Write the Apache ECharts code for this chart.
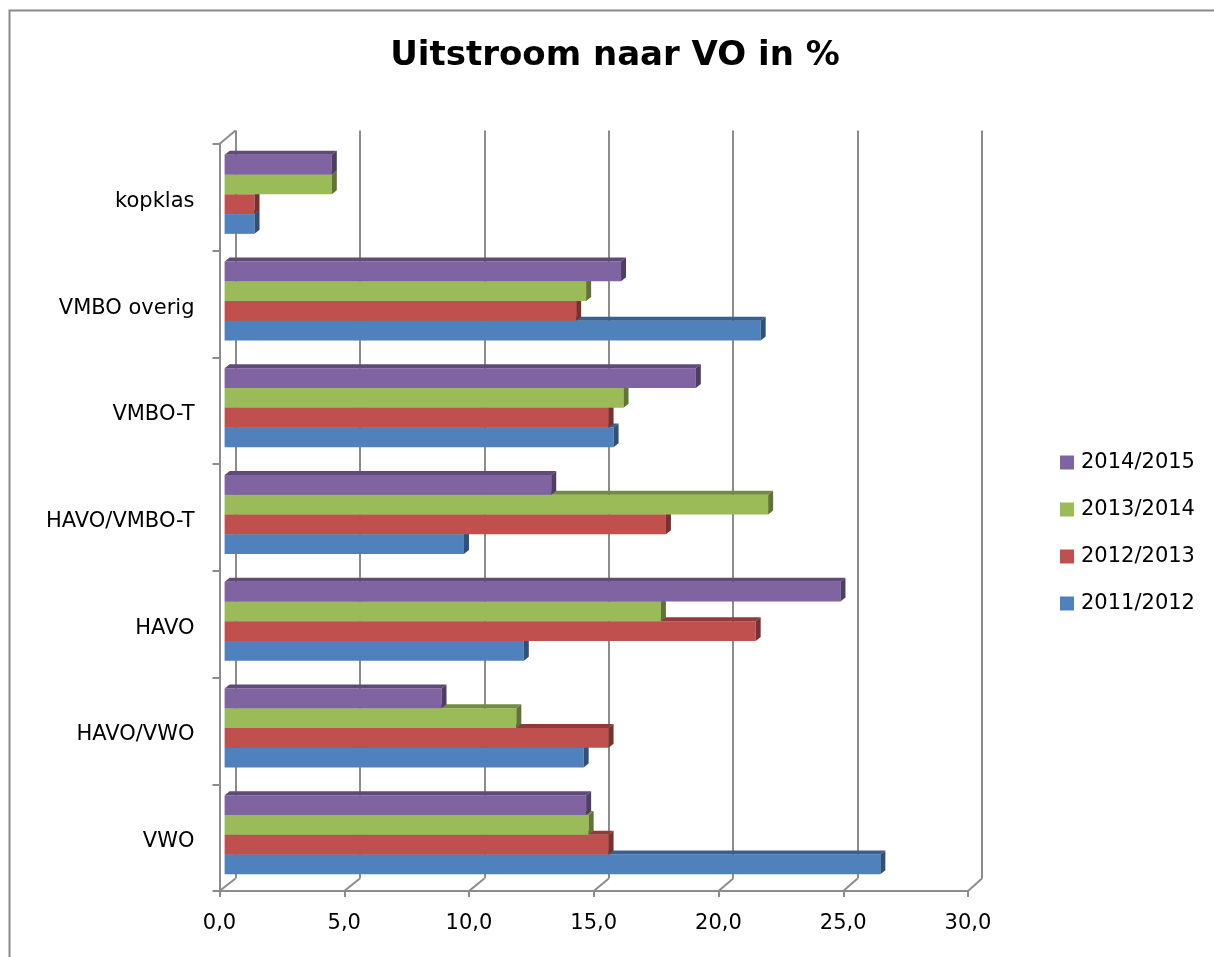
<!DOCTYPE html>
<html>
<head>
<meta charset="utf-8">
<script src="https://cdn.jsdelivr.net/npm/echarts@6/dist/echarts.min.js"></script>
<style>
html,body{margin:0;padding:0;background:#fff;}
#main{width:1214px;height:957px;}
</style>
</head>
<body>
<div id="main"></div>
<script>
// ---- data (categories bottom to top) ----
const categories = ['VWO', 'HAVO/VWO', 'HAVO', 'HAVO/VMBO-T', 'VMBO-T', 'VMBO overig', 'kopklas'];
const s2011_2012 = [26.3, 14.4, 12.0, 9.6, 15.6, 21.5, 1.2];
const s2012_2013 = [15.4, 15.4, 21.3, 17.7, 15.4, 14.1, 1.2];
const s2013_2014 = [14.6, 11.7, 17.5, 21.8, 16.0, 14.5, 4.3];
const s2014_2015 = [14.5, 8.7, 24.7, 13.1, 18.9, 15.9, 4.3];
const seriesNames = ['2011/2012', '2012/2013', '2013/2014', '2014/2015'];
const xTicks = [0, 5, 10, 15, 20, 25, 30];
const titleText = 'Uitstroom naar VO in %';

// ---- styling / layout ----
const seriesValues = [s2011_2012, s2012_2013, s2013_2014, s2014_2015];
const colors = ['#4F81BD', '#C0504D', '#9BBB59', '#8064A2'];
const FONT = '"DejaVu Sans", sans-serif';
const LINE = '#8c8c8c';
const DX = 5, DY = 4;
const FRONT = {left: 219.5, top: 144, width: 748.5, height: 747};
const BACK = {left: 235.5, top: 130.5, width: 746.5, height: 748};
const BARS = {left: 224.6, top: 141, width: 748, height: 747};

function shade(hex, f) {
  const n = parseInt(hex.slice(1), 16);
  const r = Math.round(((n >> 16) & 255) * f);
  const gg = Math.round(((n >> 8) & 255) * f);
  const b = Math.round((n & 255) * f);
  return 'rgb(' + r + ',' + gg + ',' + b + ')';
}

const chart = echarts.init(document.getElementById('main'));

function makeRender(k) {
  const col = colors[k];
  const topCol = shade(col, 0.74);
  const sideCol = shade(col, 0.62);
  return function (params, api) {
    const v = api.value(0), c = api.value(1);
    const a = api.coord([0, c]);
    const b = api.coord([v, c]);
    const band = api.size([0, 1])[1];
    const h = band * 0.74 / 4;
    const top = a[1] - 2 * h + (3 - k) * h;
    return {
      type: 'group',
      children: [
        {type: 'rect', shape: {x: a[0], y: top, width: b[0] - a[0], height: h}, style: {fill: col}},
        {type: 'polygon', shape: {points: [[a[0], top], [b[0], top], [b[0] + DX, top - DY], [a[0] + DX, top - DY]]}, style: {fill: topCol}},
        {type: 'polygon', shape: {points: [[b[0], top], [b[0] + DX, top - DY], [b[0] + DX, top + h - DY], [b[0], top + h]]}, style: {fill: sideCol}}
      ]
    };
  };
}

const series = seriesNames.map((name, k) => ({
  name: name,
  type: 'custom',
  xAxisIndex: 0,
  yAxisIndex: 0,
  itemStyle: {color: colors[k]},
  encode: {x: 0, y: 1},
  data: seriesValues[k].map((v, i) => [v, i]),
  renderItem: makeRender(k),
  z: 5
}));

chart.setOption({
  animation: false,
  backgroundColor: '#fff',
  grid: [
    Object.assign({containLabel: false}, BARS),
    Object.assign({containLabel: false}, FRONT),
    Object.assign({containLabel: false}, BACK)
  ],
  xAxis: [
    {gridIndex: 0, type: 'value', min: 0, max: 30, interval: 5, show: false},
    {gridIndex: 1, type: 'value', min: 0, max: 30, interval: 5,
      axisLine: {show: true, lineStyle: {color: LINE, width: 2}},
      axisTick: {show: true, length: 6, lineStyle: {color: LINE, width: 2}},
      splitLine: {show: false},
      axisLabel: {margin: 22, fontSize: 21, fontFamily: FONT, color: '#000',
        formatter: v => v.toFixed(1).replace('.', ',')}},
    {gridIndex: 2, type: 'value', min: 0, max: 30, interval: 5,
      axisLine: {show: false}, axisTick: {show: false}, axisLabel: {show: false},
      splitLine: {show: true, showMinLine: true, showMaxLine: true, lineStyle: {color: LINE, width: 2}}}
  ],
  yAxis: [
    {gridIndex: 0, type: 'category', data: categories, show: false},
    {gridIndex: 1, type: 'category', data: categories,
      axisLine: {show: true, lineStyle: {color: LINE, width: 2}},
      axisTick: {show: true, length: 7, interval: 0, lineStyle: {color: LINE, width: 2}},
      axisLabel: {margin: 25, fontSize: 21, fontFamily: FONT, color: '#000',
        formatter: v => '{a|' + v + '}',
        rich: {a: {fontSize: 21, fontFamily: FONT, color: '#000', padding: [8, 0, 0, 0]}}},
      splitLine: {show: false}},
    {gridIndex: 2, type: 'category', data: categories, show: false}
  ],
  legend: {
    orient: 'vertical',
    left: 1055,
    top: 447,
    itemWidth: 14,
    itemHeight: 14,
    itemGap: 26,
    icon: 'rect',
    data: ['2014/2015', '2013/2014', '2012/2013', '2011/2012'],
    textStyle: {fontSize: 21, fontFamily: FONT, color: '#000', lineHeight: 21, padding: [0, 0, 0, 2]}
  },
  series: series
});

// structural 3D box lines using the library's axis scales
const g = [];
g.push({type: 'rect', shape: {x: 9.5, y: 10.5, width: 1400, height: 1100}, style: {fill: null, stroke: '#8a8a8a', lineWidth: 2}, silent: true, z: 0});
g.push({type: 'text', x: 615, y: 56, style: {text: titleText, font: 'bold 34px ' + FONT, fill: '#000', align: 'center', verticalAlign: 'middle'}, z: 10});
const fBottom = FRONT.top + FRONT.height;
const bBottom = BACK.top + BACK.height;
xTicks.forEach(v => {
  const fx = chart.convertToPixel({xAxisIndex: 1}, v);
  const bx = chart.convertToPixel({xAxisIndex: 2}, v);
  g.push({type: 'line', shape: {x1: fx, y1: fBottom, x2: bx, y2: bBottom}, style: {stroke: LINE, lineWidth: 2}, silent: true, z: 1});
});
{
  const fx = chart.convertToPixel({xAxisIndex: 1}, 0);
  const bx = chart.convertToPixel({xAxisIndex: 2}, 0);
  g.push({type: 'line', shape: {x1: fx, y1: FRONT.top, x2: bx, y2: BACK.top}, style: {stroke: LINE, lineWidth: 2}, silent: true, z: 1});
}
chart.setOption({graphic: g});
</script>
</body>
</html>
